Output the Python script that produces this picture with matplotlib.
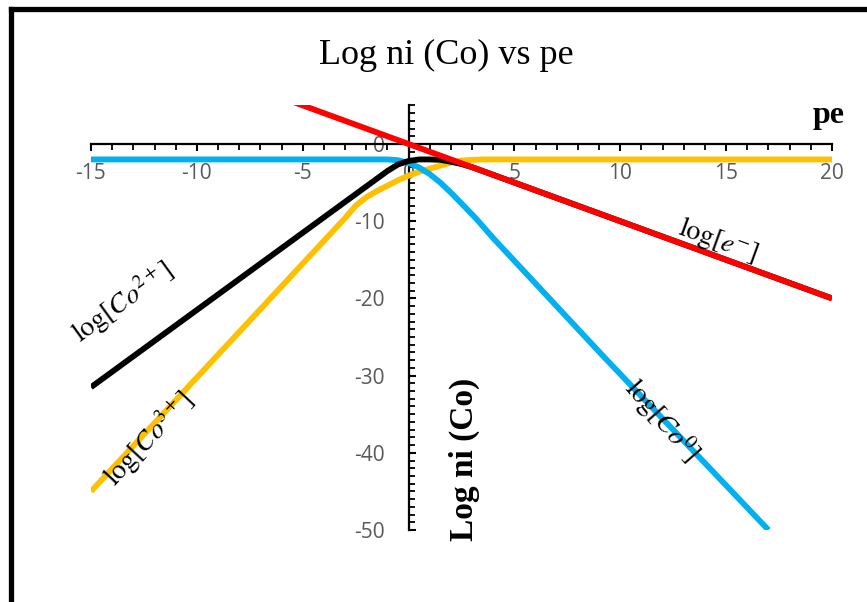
import matplotlib
matplotlib.use("Agg")
import matplotlib.pyplot as plt
from matplotlib.ticker import MultipleLocator
from matplotlib.lines import Line2D

# pe values and log concentrations
pe_e = [-15, 20]
log_e = [15, -20]

pe_co0 = [-15, -1.0, -0.5, 0.0, 0.5, 1.0, 1.5, 2.0, 2.5, 3.2, 4.0, 9.2, 17.0]
log_co0 = [-2.0, -2.0, -2.1, -2.45, -3.05, -3.9, -5.0, -6.3, -7.7, -9.7, -12.2, -27.5, -50.0]

pe_co2 = [-15, -1.5, -1.0, -0.5, 0.0, 0.5, 1.0, 1.5, 2.0, 2.5, 3.0, 20]
log_co2 = [-31.5, -4.5, -3.5, -2.65, -2.2, -2.0, -2.0, -2.05, -2.3, -2.6, -3.0, -20]

pe_co3 = [-15, -3.0, -2.5, -2.0, -1.5, -1.0, -0.5, 0.0, 0.5, 1.0, 1.5, 2.0, 2.5, 3.0, 3.5, 20]
log_co3 = [-45.0, -9.6, -8.0, -6.9, -6.1, -5.4, -4.7, -4.1, -3.6, -3.2, -2.8, -2.4, -2.15, -2.05, -2.0, -2.0]

x_ticks = [-15, -10, -5, 0, 5, 10, 15, 20]
y_ticks = [0, -10, -20, -30, -40, -50]

plt.rcParams['mathtext.fontset'] = 'stix'
plt.rcParams['axes.unicode_minus'] = False

W, H = 867, 602
fig = plt.figure(figsize=(W / 100, H / 100), dpi=100)
ax = fig.add_axes([91 / W, 1 - 530 / H, (832 - 91) / W, (530 - 105.4) / H])

lw = 4.2
ax.plot(pe_co3, log_co3, color='#FFC000', lw=lw, solid_capstyle='butt', zorder=3)
ax.plot(pe_co0, log_co0, color='#00B0F0', lw=lw, solid_capstyle='butt', zorder=4)
ax.plot(pe_co2, log_co2, color='black', lw=lw, solid_capstyle='butt', zorder=5)
ax.plot(pe_e, log_e, color='#FF0000', lw=lw, solid_capstyle='butt', zorder=6)

ax.set_xlim(-15, 20)
ax.set_ylim(-50, 5)

for s in ['top', 'right']:
    ax.spines[s].set_visible(False)
ax.spines['left'].set_position(('data', 0))
ax.spines['bottom'].set_position(('data', 0))
ax.spines['left'].set_linewidth(1.6)
ax.spines['bottom'].set_linewidth(1.6)

ax.set_xticks(x_ticks)
ax.set_yticks(y_ticks)
ax.xaxis.set_minor_locator(MultipleLocator(1))
ax.yaxis.set_minor_locator(MultipleLocator(1))
ax.tick_params(axis='x', which='major', direction='out', length=5, width=1.5, pad=9,
               labelsize=15, labelcolor='#595959')
ax.tick_params(axis='x', which='minor', direction='out', length=4, width=1.3)
ax.tick_params(axis='y', which='major', direction='in', length=5, width=1.5, pad=17,
               labelsize=15, labelcolor='#595959')
ax.tick_params(axis='y', which='minor', direction='in', length=4, width=1.3)
for lab in ax.get_xticklabels() + ax.get_yticklabels():
    lab.set_family('Open Sans')

serif = 'Liberation Serif'
fig.text(446 / W, 1 - 55 / H, 'Log ni (Co) vs pe', ha='center', va='center',
         fontsize=26, family=serif)
fig.text(829 / W, 1 - 115 / H, 'pe', ha='center', va='center',
         fontsize=23, family=serif, weight='bold')
fig.text(464 / W, 1 - 459 / H, 'Log ni (Co)', ha='center', va='center',
         rotation=90, fontsize=24, family=serif, weight='bold')

lab_kw = dict(ha='center', va='center', rotation_mode='anchor', fontsize=20, zorder=8)
ax.text(-13.5, -20.5, r'$\log[Co^{2+}]$', rotation=36, **lab_kw)
ax.text(-12.26, -38.2, r'$\log[Co^{3+}]$', rotation=47, **lab_kw)
ax.text(14.6, -12.6, r'$\log[e^{-}]$', rotation=-20, **lab_kw)
ax.text(11.97, -35.8, r'$\log[Co^{0}]$', rotation=-49, **lab_kw)

# chart frame (only its top and left edges are in view)
fig.add_artist(Line2D([10.5 / W, 10.5 / W], [0, 1 - 8.5 / H], color='black', lw=3.8,
                      solid_capstyle='projecting', transform=fig.transFigure))
fig.add_artist(Line2D([10.5 / W, 1], [1 - 8.5 / H, 1 - 8.5 / H], color='black', lw=3.8,
                      solid_capstyle='projecting', transform=fig.transFigure))

fig.savefig('out.png', dpi=100)
